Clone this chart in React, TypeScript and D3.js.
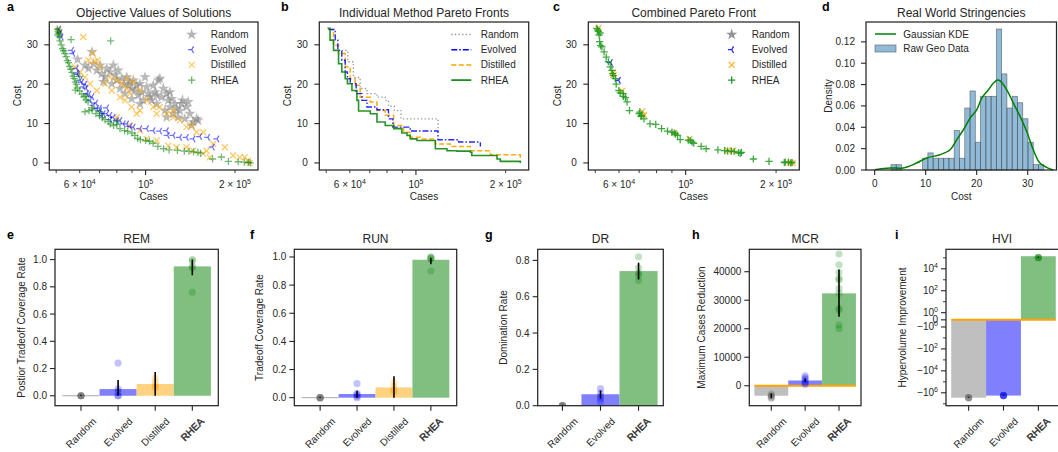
import React from 'react';
import * as d3 from 'd3';

const FONT = "'Liberation Sans', Arial, Helvetica, sans-serif";
const INK = '#262626';

type Pt = [number, number];
type Box = { l: number; r: number; t: number; b: number };

// ---------------- Panel a: all solutions [cases, cost] ----------------
const randomSolutions: Pt[] = [
  [59000, 26.3], [66000, 28.2], [62500, 24.8], [64200, 24.0], [66700, 25.2], [68500, 23.5], [70300, 24.8],
  [71200, 22.7], [73100, 21.8], [74000, 24.0], [75900, 23.1], [77900, 24.8], [78900, 22.3], [79900, 21.0],
  [80900, 23.5], [83100, 21.4], [84600, 20.1], [86400, 21.8], [87500, 19.7], [88600, 20.6], [89700, 18.9],
  [90900, 21.0], [92100, 18.4], [93300, 19.7], [94500, 17.2], [95700, 20.1], [97000, 18.0], [98200, 15.9],
  [100800, 19.3], [102100, 17.6], [104800, 15.9], [106100, 19.7], [107500, 18.0], [108900, 15.0], [110300, 21.0],
  [111700, 21.4], [113200, 16.7], [114700, 18.9], [116200, 13.3], [117700, 17.6], [119200, 15.9], [120700, 14.2],
  [122300, 16.3], [123900, 12.5], [125500, 15.0], [127100, 13.8], [128800, 11.6], [130400, 13.3], [133100, 15.9],
  [135500, 11.2], [137300, 14.2], [139100, 15.5], [140900, 12.5], [142700, 9.5], [144600, 10.4], [148400, 11.2],
  [150300, 10.8], [72100, 20.6], [76900, 20.1], [82000, 18.9], [85200, 17.6], [89700, 16.3], [95700, 15.0],
  [99500, 21.8], [103400, 16.7], [108900, 17.2], [120700, 18.0], [132100, 15.0], [117700, 11.6],
];
const evolvedSolutions: Pt[] = [
  [51000, 34], [51500, 33], [52000, 32], [56400, 28.6], [57000, 27.8], [58500, 24], [60200, 21], [59000, 22.5],
  [61700, 19.3], [63400, 17.6], [65000, 15.9], [66700, 14.6], [68500, 13.8], [70300, 13.3], [72100, 12.5],
  [74000, 12.5], [75900, 12.1], [77900, 11.6], [79900, 10.8], [82000, 10.8], [84200, 9.9], [86400, 9.9],
  [88600, 9.3], [90900, 9.1], [95700, 8.7], [100800, 8.7], [106100, 8.2], [111700, 8.1], [117700, 8.2],
  [118500, 7], [123900, 7], [130400, 6.5], [137300, 6.5], [144600, 6.1], [152300, 6.7], [162000, 6.5],
  [174000, 6.1], [168000, 4], [58700, 22.8], [61000, 20.5], [62500, 20], [64500, 17.5], [66000, 16.8],
  [68000, 15.2], [70000, 13.9], [71000, 12], [74000, 14], [76000, 11], [63000, 19],
];
const distilledSolutions: Pt[] = [
  [50900, 33.9], [51300, 33.3], [61700, 32.0], [66400, 27.8], [64200, 26.1], [67200, 25.7], [68900, 26.1],
  [60200, 23.1], [57900, 24.4], [70300, 24.4], [75900, 21.8], [79900, 21.0], [83100, 20.1], [86400, 18.9],
  [88600, 17.6], [90900, 20.6], [95700, 18.4], [100800, 15.9], [106100, 14.2], [111700, 14.2], [117700, 12.5],
  [123900, 13.3], [130400, 10.8], [137300, 9.1], [142700, 9.5], [148400, 7.8], [156300, 7.8], [160400, 3.1],
  [168800, 4.8], [184900, 4.0], [197000, 1.9], [207400, 1.4], [215500, 1.4], [220900, 0.6], [224000, 0],
  [95700, 8.2], [100800, 6.1], [108900, 5.7], [119200, 4.4], [127100, 4.0], [137300, 4.0], [144600, 3.1],
  [156300, 2.3], [164500, 1.4], [73100, 20.1], [76900, 18.4], [82000, 16.7], [85200, 15.9], [89700, 14.2],
  [93300, 12.5], [79900, 11.6], [88600, 9.5], [95700, 13.3], [123900, 11.6], [108900, 12.5], [86400, 21.4],
  [62500, 21.8], [65000, 20.1], [68500, 18.4],
];
const rheaSolutions: Pt[] = [
  [50500, 34], [50800, 33.5], [51000, 33], [50600, 32.5], [51200, 32], [51500, 31], [56100, 31.3], [76300, 31],
  [52000, 30], [52600, 29], [53000, 28.5], [53500, 27.8], [54000, 27], [54500, 26], [55000, 25.5], [55500, 24.5],
  [56000, 23.8], [56500, 23], [57000, 22], [57500, 21.5], [58000, 20.5], [58500, 20], [59000, 19], [60000, 18.3],
  [61000, 17.5], [62000, 16.8], [63000, 16], [64000, 15.5], [64500, 13.3], [62500, 13], [66000, 13.5],
  [68000, 12.5], [70000, 12], [71500, 11.5], [73000, 11], [75000, 10.5], [76000, 9.9], [78000, 9.5],
  [80000, 9.8], [82000, 8.7], [85000, 8.2], [87000, 8], [90000, 7.6], [92000, 7], [94000, 6.2], [96000, 5.9],
  [100000, 5.7], [103000, 5.5], [106000, 5], [110000, 4.2], [115000, 3.6], [120000, 3.3], [128000, 3.2],
  [135000, 3], [140000, 3], [145000, 2.8], [150000, 2.7], [153000, 2.5], [168000, 1], [180000, 1.5],
  [190000, 0.4], [205000, 0.3], [215000, 0.2], [222000, 0.1], [225000, 0], [60000, 22], [58000, 18.5],
  [63000, 17], [66000, 14], [70000, 13], [80000, 10.5],
];

// ---------------- Panel b: per-method Pareto fronts ----------------
const randomFront: Pt[] = [
  [56400, 28.6], [59100, 25.7], [61700, 21.7], [65000, 18.9], [68500, 17.6], [74000, 16.7], [78900, 15.9],
  [80900, 14.4], [84600, 13.3], [89100, 11.2], [118600, 8.2],
];
const evolvedFront: Pt[] = [
  [50900, 33.9], [53600, 31.2], [54700, 28.6], [56400, 26.1], [57900, 23.1], [58900, 21.4], [60200, 20.1],
  [63000, 17.6], [65900, 15.9], [68500, 14.2], [74000, 13.5], [80900, 11.2], [83700, 9.1], [95700, 8.1],
  [118600, 5.9], [139100, 5.3], [164500, 4.2],
];
const distilledFront: Pt[] = [
  [50900, 33.9], [52900, 29.9], [55000, 27.8], [57900, 24.4], [60200, 21.4], [62500, 19.7], [65000, 16.7],
  [70300, 15.5], [74000, 13.3], [78900, 12.1], [84200, 9.5], [90900, 7.8], [95700, 6.5], [103400, 6.1],
  [116200, 4.8], [130400, 4.2], [152300, 3.1], [177700, 2.1], [224000, 0.8],
];
const rheaFront: Pt[] = [
  [50500, 34.2], [51500, 31.2], [52900, 28.6], [55000, 25.2], [56400, 23.1], [57900, 21.4], [58900, 20.1],
  [61000, 18.4], [63400, 15.9], [64200, 13.2], [70300, 12.5], [74000, 10.4], [78900, 9.5], [84200, 8.7],
  [89700, 7.6], [93300, 7.0], [95700, 6.1], [100800, 5.7], [116200, 3.6], [127100, 3.1], [137300, 3.0],
  [152300, 2.7], [154000, 1.9], [187100, 1.0], [192000, 0.4], [224000, 0],
];

// ---------------- Panel c: combined Pareto front ----------------
const combinedRhea: Pt[] = [
  [50600, 34.2], [50900, 33.8], [51200, 33.4], [51900, 33.0], [51500, 32.5], [51700, 30.8], [52600, 29.5],
  [53500, 28.2], [54400, 26.9], [55300, 25.7], [56100, 24.4], [57100, 22.7], [58300, 21.4], [58700, 20.0],
  [59900, 18.4], [61900, 17.6], [63000, 16.6], [63800, 15.5], [65000, 13.3], [70400, 12.9], [71300, 12.1],
  [72600, 11.2], [76100, 9.9], [79500, 9.8], [83100, 8.7], [87000, 8.1], [91600, 7.6], [94000, 7.0],
  [95900, 5.9], [103600, 5.7], [106400, 5.0], [112600, 4.2], [117000, 3.6], [128000, 3.3], [134800, 3.1],
  [142000, 3.0], [153400, 2.7], [168000, 1.0], [189500, 0.4], [214600, 0.2], [226000, 0.1], [70000, 12.5],
  [71000, 11.8], [90000, 7.8], [92500, 7.3], [102000, 5.8], [105000, 5.3], [138000, 3.0], [145000, 2.9],
  [150000, 2.6], [152000, 2.4], [213000, 0.1], [220000, 0.2], [224000, 0], [60500, 17.8], [62000, 16.9],
  [57500, 22.2], [56800, 23.5], [52100, 29.8],
];
const combinedDistilled: Pt[] = [
  [51200, 34.2], [57300, 22.9], [57500, 22.3], [61400, 18.3], [71700, 13.1], [72600, 12.1], [91600, 7.6],
  [103000, 6.1], [138400, 3.1], [144000, 3.1], [223000, 0], [227000, 0],
];
const combinedEvolved: Pt[] = [[56200, 25.5], [59800, 21.0]];

// ---------------- Panel d: real-world stringencies ----------------
const histStart = 3.2;
const histBinWidth = 1.033;
const histDensity = [
  0.005, 0.005, 0, 0, 0, 0, 0.011, 0.016, 0.011, 0.011, 0.011, 0.011, 0.037, 0.011, 0.058, 0.074, 0.026,
  0.069, 0.069, 0.069, 0.132, 0.090, 0.058, 0.069, 0.063, 0.048, 0.026, 0.005, 0.005, 0,
];
const kdeCost = [0, 3.0, 5.6, 8.2, 10.2, 12.8, 14.8, 16.1, 17.4, 18.7, 20.0, 21.0, 22.3, 23.3, 24.1, 24.7, 25.9, 27.2, 28.5, 29.8, 31.1, 32.4, 34.4, 35.0];
const kdeDensity = [0.0003, 0.0019, 0.0019, 0.0065, 0.0112, 0.0143, 0.019, 0.0284, 0.0377, 0.0486, 0.0564, 0.0673, 0.0751, 0.0814, 0.0842, 0.083, 0.0751, 0.0626, 0.0502, 0.0362, 0.019, 0.0065, 0.0009, 0.0];

// ---------------- Bottom row metrics ----------------
const methods4 = ['Random', 'Evolved', 'Distilled', 'RHEA'];
const methods3 = ['Random', 'Evolved', 'RHEA'];

const remMean = [0, 0.049, 0.086, 0.95];
const remLow = [0, 0, 0, 0.885];
const remHigh = [0, 0.115, 0.174, 1.0];
const remRuns = [[0, 0, 0, 0, 0], [0.24, 0.05, 0.03, 0.0, 0.0], [0.06, 0.08, 0.1, 0.13, 0.06], [1.0, 0.99, 0.95, 0.94, 0.76]];

const runMean = [0, 0.026, 0.073, 0.98];
const runLow = [0, 0, 0, 0.948];
const runHigh = [0, 0.05, 0.152, 0.995];
const runRuns = [[0, 0, 0, 0, 0], [0.1, 0.03, 0.02, 0.01, 0.0], [0.107, 0.08, 0.06, 0.05, 0.043], [1.0, 0.995, 0.99, 0.985, 0.9]];

const drMean = [0, 0.063, 0.741];
const drLow = [0, 0.039, 0.695];
const drHigh = [0, 0.084, 0.787];
const drRuns = [[0, 0, 0, 0, 0], [0.094, 0.07, 0.05, 0.04, 0.02], [0.82, 0.759, 0.73, 0.72, 0.69]];

const mcrMean = [-3500, 1850, 32400];
const mcrLow = [-4400, 1300, 24200];
const mcrHigh = [-2700, 2500, 40800];
const mcrRuns = [
  [-2900, -3300, -3700, -4100, -4400],
  [3500, 2800, 2200, 1500, 1000, 500],
  [46200, 42400, 39700, 37700, 37100, 34200, 32400, 27100, 26600, 21300, 20100],
];

const hviMean = [-2.8e6, -1.8e6, 1.4e5];
const hviLow = [-2.9e6, -1.85e6, 1.0e5];
const hviHigh = [-2.7e6, -1.75e6, 1.1e5];
const hviRuns = [[-2.8e6, -2.9e6, -2.7e6, -2.8e6], [-1.8e6, -1.85e6, -1.75e6, -1.8e6, -1.8e6], [1.05e5, 1.0e5, 1.1e5, 1.05e5]];

const distilledBaseline = 0;

// ---------------- axis settings ----------------
const caseDomain: [number, number] = [47400, 239000];
const costDomain: [number, number] = [-1.8, 35.8];
const caseMinorTicks = [50000, 60000, 70000, 80000, 90000, 200000];
const caseMajorTicks = [100000];
const caseTickLabels = [
  { v: 60000, m: '6 × 10', e: '4' },
  { v: 100000, m: '10', e: '5' },
  { v: 200000, m: '2 × 10', e: '5' },
];
const costTicks = [0, 10, 20, 30];
const densityTicks = [0, 0.02, 0.04, 0.06, 0.08, 0.1, 0.12];
const histCostTicks = [0, 10, 20, 30];

const SYM_A = 0.65;
const symT = (v: number) => {
  const a = Math.abs(v);
  const t = a < 1 ? a * SYM_A : SYM_A + Math.log10(a);
  return Math.sign(v) * t;
};
const hviTicks = [
  { v: 1e4, neg: false, e: '4' },
  { v: 1e2, neg: false, e: '2' },
  { v: 1, neg: false, e: '0' },
  { v: 0, neg: false, e: '' },
  { v: -1, neg: true, e: '0' },
  { v: -1e2, neg: true, e: '2' },
  { v: -1e4, neg: true, e: '4' },
  { v: -1e6, neg: true, e: '6' },
];
const hviMinor = [1e5, 1e3, 1e1, -1e1, -1e3, -1e5, -1e7];

const barColor: Record<string, string> = { Random: '#bfbfbf', Evolved: '#8080ff', Distilled: '#ffd280', RHEA: '#80bf80' };
const dotColor: Record<string, string> = { Random: '#555555', Evolved: '#0000ff', Distilled: '#ffa500', RHEA: '#008000' };

let _ctx: any = null;
function textWidth(s: string, size = 10) {
  let w = s.length * size * 0.58;
  try {
    if (!_ctx) _ctx = document.createElement('canvas').getContext('2d');
    if (_ctx) {
      _ctx.font = `${size}px "Liberation Sans", Arial`;
      const m = _ctx.measureText(s).width;
      if (isFinite(m) && m > 0) w = m;
    }
  } catch (e) {
    /* keep estimate */
  }
  return w;
}

const starPath = d3.symbol(d3.symbolStar, 40)() as string;

function marker(kind: string, x: number, y: number, color: string, op: number, key: any) {
  const tr = `translate(${x},${y})`;
  if (kind === 'star') return <path key={key} d={starPath} transform={tr} fill={color} fillOpacity={op} />;
  let d = '';
  if (kind === 'tri') d = 'M0,0H-3.8M0,0L1.9,-3.3M0,0L1.9,3.3';
  if (kind === 'x') d = 'M-3,-3L3,3M-3,3L3,-3';
  if (kind === 'plus') d = 'M-3.6,0H3.6M0,-3.6V3.6';
  return <path key={key} d={d} transform={tr} stroke={color} strokeOpacity={op} strokeWidth={1.3} fill="none" />;
}

function Frame({ box }: { box: Box }) {
  return <rect x={box.l} y={box.t} width={box.r - box.l} height={box.b - box.t} fill="none" stroke={INK} strokeWidth={1.25} />;
}

function Letter({ x, y, s }: { x: number; y: number; s: string }) {
  return <text x={x} y={y} fontSize={12.5} fontWeight="bold" fill="#000">{s}</text>;
}

function YLabel({ x, box, s }: { x: number; box: Box; s: string }) {
  const cy = (box.t + box.b) / 2;
  return (
    <text x={x} y={cy} transform={`rotate(-90 ${x} ${cy})`} textAnchor="middle" dominantBaseline="central" fontSize={10} fill={INK}>
      {s}
    </text>
  );
}

const boxA: Box = { l: 49.3, r: 258, t: 22, b: 170 };
const boxB: Box = { l: 319.3, r: 528.7, t: 22, b: 170 };
const boxC: Box = { l: 588.3, r: 799.3, t: 22, b: 170 };
const boxD: Box = { l: 866, r: 1056.5, t: 22, b: 170 };

function LogCostAxes({ box, ylabelX, title }: { box: Box; ylabelX: number; title: string }) {
  const x = d3.scaleLog().domain(caseDomain).range([box.l, box.r]);
  const y = d3.scaleLinear().domain(costDomain).range([box.b, box.t]);
  return (
    <g>
      {caseMinorTicks.map((v) => (
        <line key={'mi' + v} x1={x(v)} x2={x(v)} y1={box.b} y2={box.b + 3} stroke={INK} strokeWidth={0.9} />
      ))}
      {caseMajorTicks.map((v) => (
        <line key={'ma' + v} x1={x(v)} x2={x(v)} y1={box.b} y2={box.b + 5} stroke={INK} strokeWidth={1.1} />
      ))}
      {caseTickLabels.map((t) => (
        <text key={'tl' + t.v} x={x(t.v)} y={box.b + 18} textAnchor="middle" fontSize={10} fill={INK}>
          {t.m}
          <tspan dy={-4.5} fontSize={7}>{t.e}</tspan>
        </text>
      ))}
      {costTicks.map((v) => (
        <g key={'ct' + v}>
          <line x1={box.l - 5} x2={box.l} y1={y(v)} y2={y(v)} stroke={INK} strokeWidth={1.1} />
          <text x={box.l - 11.5} y={y(v)} dy="0.35em" textAnchor="end" fontSize={10} fill={INK}>{v}</text>
        </g>
      ))}
      <text x={(box.l + box.r) / 2} y={200} textAnchor="middle" fontSize={10} fill={INK}>Cases</text>
      <YLabel x={ylabelX} box={box} s="Cost" />
      <text x={(box.l + box.r) / 2} y={16.5} textAnchor="middle" fontSize={12} fill={INK}>{title}</text>
      <Frame box={box} />
    </g>
  );
}

const legendNames = ['Random', 'Evolved', 'Distilled', 'RHEA'];
const legendRowY = (i: number) => 34.5 + i * 15.2;

function PanelA() {
  const box = boxA;
  const x = d3.scaleLog().domain(caseDomain).range([box.l, box.r]);
  const y = d3.scaleLinear().domain(costDomain).range([box.b, box.t]);
  const series: [Pt[], string, string, number][] = [
    [randomSolutions, 'star', '#808080', 0.55],
    [distilledSolutions, 'x', '#ffa500', 0.6],
    [evolvedSolutions, 'tri', '#0000ff', 0.55],
    [rheaSolutions, 'plus', '#008000', 0.55],
  ];
  const leg: [string, string][] = [['star', '#808080'], ['tri', '#0000ff'], ['x', '#ffa500'], ['plus', '#008000']];
  return (
    <g>
      {series.map(([pts, k, c, o], si) => (
        <g key={si}>{pts.map((p, i) => marker(k, x(p[0]), y(p[1]), c, o, i))}</g>
      ))}
      {leg.map(([k, c], i) => (
        <g key={'l' + i}>
          {marker(k, box.l + 142.4, legendRowY(i), c, 0.6, 'm')}
          <text x={box.l + 161.4} y={legendRowY(i)} dy="0.35em" fontSize={10} fill={INK}>{legendNames[i]}</text>
        </g>
      ))}
      <LogCostAxes box={box} ylabelX={17.5} title="Objective Values of Solutions" />
      <Letter x={7} y={11} s="a" />
    </g>
  );
}

function PanelB() {
  const box = boxB;
  const x = d3.scaleLog().domain(caseDomain).range([box.l, box.r]);
  const y = d3.scaleLinear().domain(costDomain).range([box.b, box.t]);
  const line = d3.line<Pt>().x((d) => x(d[0])).y((d) => y(d[1])).curve(d3.curveStepAfter);
  const fronts: [Pt[], string, string, number, number][] = [
    [randomFront, '#999999', '1.4,2.2', 1.3, 1],
    [distilledFront, '#ffa500', '5,2.5', 1.5, 0.95],
    [evolvedFront, '#0000ff', '6,2,1.5,2', 1.4, 0.85],
    [rheaFront, '#008000', '', 1.6, 0.85],
  ];
  const legOrder = [0, 2, 1, 3];
  return (
    <g>
      {fronts.map(([pts, c, dash, w, o], i) => (
        <path key={i} d={line(pts) as string} fill="none" stroke={c} strokeWidth={w} strokeDasharray={dash || undefined} strokeOpacity={o} />
      ))}
      {legOrder.map((fi, i) => {
        const [, c, dash, w] = fronts[fi];
        return (
          <g key={'l' + i}>
            <line x1={box.l + 132} x2={box.l + 152} y1={legendRowY(i)} y2={legendRowY(i)} stroke={c} strokeWidth={w} strokeDasharray={dash || undefined} />
            <text x={box.l + 161.4} y={legendRowY(i)} dy="0.35em" fontSize={10} fill={INK}>{legendNames[i]}</text>
          </g>
        );
      })}
      <LogCostAxes box={box} ylabelX={287.5} title="Individual Method Pareto Fronts" />
      <Letter x={281} y={11} s="b" />
    </g>
  );
}

function PanelC() {
  const box = boxC;
  const x = d3.scaleLog().domain(caseDomain).range([box.l, box.r]);
  const y = d3.scaleLinear().domain(costDomain).range([box.b, box.t]);
  const leg: [string, string][] = [['star', '#808080'], ['tri', '#0000ff'], ['x', '#ffa500'], ['plus', '#008000']];
  return (
    <g>
      {combinedDistilled.map((p, i) => marker('x', x(p[0]), y(p[1]), '#ffa500', 0.8, 'd' + i))}
      {combinedEvolved.map((p, i) => marker('tri', x(p[0]), y(p[1]), '#0000ff', 0.8, 'e' + i))}
      {combinedRhea.map((p, i) => marker('plus', x(p[0]), y(p[1]), '#1f9a1f', 0.85, 'r' + i))}
      {leg.map(([k, c], i) => (
        <g key={'l' + i}>
          {marker(k, box.l + 143.4, legendRowY(i), c, 0.85, 'm')}
          <text x={box.l + 163.4} y={legendRowY(i)} dy="0.35em" fontSize={10} fill={INK}>{legendNames[i]}</text>
        </g>
      ))}
      <LogCostAxes box={box} ylabelX={557.5} title="Combined Pareto Front" />
      <Letter x={553} y={11} s="c" />
    </g>
  );
}

function PanelD() {
  const box = boxD;
  const x = d3.scaleLinear().domain([-1.7, 35.65]).range([box.l, box.r]);
  const y = d3.scaleLinear().domain([0, 0.1386]).range([box.b, box.t]);
  const kde = d3
    .line<number>()
    .x((_, i) => x(kdeCost[i]))
    .y((d) => y(d))
    .curve(d3.curveCatmullRom);
  return (
    <g>
      {histDensity.map((h, i) =>
        h > 0 ? (
          <rect
            key={i}
            x={x(histStart + i * histBinWidth)}
            y={y(h)}
            width={x(histStart + (i + 1) * histBinWidth) - x(histStart + i * histBinWidth)}
            height={y(0) - y(h)}
            fill="#1f77b4"
            fillOpacity={0.5}
            stroke="#555"
            strokeOpacity={0.7}
            strokeWidth={0.8}
          />
        ) : null
      )}
      <path d={kde(kdeDensity) as string} fill="none" stroke="#008000" strokeWidth={1.5} />
      {densityTicks.map((v) => (
        <g key={'y' + v}>
          <line x1={box.l - 5} x2={box.l} y1={y(v)} y2={y(v)} stroke={INK} strokeWidth={1.1} />
          <text x={box.l - 11} y={y(v)} dy="0.35em" textAnchor="end" fontSize={10} fill={INK}>{v.toFixed(2)}</text>
        </g>
      ))}
      {histCostTicks.map((v) => (
        <g key={'x' + v}>
          <line x1={x(v)} x2={x(v)} y1={box.b} y2={box.b + 5} stroke={INK} strokeWidth={1.1} />
          <text x={x(v)} y={box.b + 17} textAnchor="middle" fontSize={10} fill={INK}>{v}</text>
        </g>
      ))}
      <line x1={box.l + 9} x2={box.l + 30} y1={34} y2={34} stroke="#008000" strokeWidth={1.5} />
      <text x={box.l + 37.3} y={34} dy="0.35em" fontSize={10} fill={INK}>Gaussian KDE</text>
      <rect x={box.l + 9} y={45} width={21} height={7} fill="#1f77b4" fillOpacity={0.5} stroke="#555" strokeOpacity={0.7} strokeWidth={0.8} />
      <text x={box.l + 37.3} y={48.7} dy="0.35em" fontSize={10} fill={INK}>Raw Geo Data</text>
      <text x={(box.l + box.r) / 2} y={200} textAnchor="middle" fontSize={10} fill={INK}>Cost</text>
      <YLabel x={828} box={box} s="Density" />
      <text x={(box.l + box.r) / 2} y={16.5} textAnchor="middle" fontSize={12} fill={INK}>Real World Stringencies</text>
      <Frame box={box} />
      <Letter x={822} y={11} s="d" />
    </g>
  );
}

type TickSpec = { v: number; label: React.ReactNode };

function BarPanel(props: {
  box: Box;
  letter: string;
  letterX: number;
  title: string;
  ylabel: string;
  ylabelX: number;
  cats: string[];
  means: number[];
  lo: number[];
  hi: number[];
  runs: number[][];
  yDomain: [number, number];
  yTicks: TickSpec[];
  yMinor?: number[];
  tf?: (v: number) => number;
  xDomain: [number, number];
  baseline?: boolean;
}) {
  const { box, cats, means, lo, hi, runs } = props;
  const tf = props.tf || ((v: number) => v);
  const x = d3.scaleLinear().domain(props.xDomain).range([box.l, box.r]);
  const ys = d3.scaleLinear().domain(props.yDomain).range([box.b, box.t]);
  const y = (v: number) => ys(tf(v));
  const c45 = Math.SQRT1_2;
  return (
    <g>
      <defs>
        <clipPath id={'clip' + props.letter}>
          <rect x={box.l} y={box.t} width={box.r - box.l} height={box.b - box.t} />
        </clipPath>
      </defs>
      <g clipPath={`url(#clip${props.letter})`}>
        {cats.map((c, i) => {
          const x0 = x(i - 0.5);
          const x1 = x(i + 0.5);
          if (means[i] === 0) {
            return <line key={'b' + i} x1={x0} x2={x1} y1={y(0)} y2={y(0)} stroke="#a8a8a8" strokeWidth={1} />;
          }
          const ya = y(0);
          const yb = y(means[i]);
          return <rect key={'b' + i} x={x0} y={Math.min(ya, yb)} width={x1 - x0} height={Math.abs(ya - yb)} fill={barColor[c]} />;
        })}
        {props.baseline ? (
          <line x1={x(-0.5)} x2={x(cats.length - 0.5)} y1={y(distilledBaseline)} y2={y(distilledBaseline)} stroke="#ffa500" strokeWidth={2} />
        ) : null}
        {cats.map((c, i) =>
          runs[i].map((v, j) => <circle key={'d' + i + '-' + j} cx={x(i)} cy={y(v)} r={3.6} fill={dotColor[c]} fillOpacity={0.24} />)
        )}
        {cats.map((c, i) => (
          <line key={'e' + i} x1={x(i)} x2={x(i)} y1={y(lo[i])} y2={Math.min(y(hi[i]), y(lo[i]) - 1)} stroke="#000" strokeWidth={1.6} />
        ))}
      </g>
      {props.yTicks.map((t, i) => (
        <g key={'yt' + i}>
          <line x1={box.l - 5} x2={box.l} y1={y(t.v)} y2={y(t.v)} stroke={INK} strokeWidth={1.1} />
          <text x={box.l - 8} y={y(t.v)} dy="0.35em" textAnchor="end" fontSize={10} fill={INK}>{t.label}</text>
        </g>
      ))}
      {(props.yMinor || []).map((v, i) => (
        <line key={'ym' + i} x1={box.l - 3} x2={box.l} y1={y(v)} y2={y(v)} stroke={INK} strokeWidth={0.9} />
      ))}
      {cats.map((c, i) => {
        const w = textWidth(c, 10);
        const h = (w + 8) * c45;
        const cx = x(i);
        const cy = box.b + 11 + h / 2;
        return (
          <g key={'xt' + i}>
            <line x1={cx} x2={cx} y1={box.b} y2={box.b + 5} stroke={INK} strokeWidth={1.1} />
            <g transform={`matrix(${c45},${-c45},${c45},${c45},${cx},${cy})`}>
              <text
                x={0}
                y={3.5}
                textAnchor="middle"
                fontSize={10}
                fill={INK}
                stroke={c === 'RHEA' ? INK : 'none'}
                strokeWidth={c === 'RHEA' ? 0.35 : 0}
              >
                {c}
              </text>
            </g>
          </g>
        );
      })}
      <text x={(box.l + Math.min(box.r, 1058)) / 2} y={242.7} textAnchor="middle" fontSize={12} fill={INK}>
        {props.title}
      </text>
      <YLabel x={props.ylabelX} box={box} s={props.ylabel} />
      <Frame box={box} />
      <Letter x={props.letterX} y={239} s={props.letter} />
    </g>
  );
}

const unitTicks = (vals: number[]) => vals.map((v) => ({ v, label: v.toFixed(1) }));

export default function App() {
  const boxE: Box = { l: 55, r: 218.3, t: 249.3, b: 405.7 };
  const boxF: Box = { l: 294.3, r: 456.7, t: 249.3, b: 405.7 };
  const boxG: Box = { l: 537.7, r: 663.3, t: 249.3, b: 405.7 };
  const boxH: Box = { l: 749.3, r: 861, t: 249.3, b: 405.7 };
  const boxI: Box = { l: 946, r: 1061, t: 249.3, b: 405.7 };
  const hviTickSpecs: TickSpec[] = hviTicks.map((t) => ({
    v: t.v,
    label:
      t.v === 0 ? (
        '0'
      ) : (
        <>
          {t.neg ? '−10' : '10'}
          <tspan dy={-4.5} fontSize={7}>{t.e}</tspan>
        </>
      ),
  }));
  return (
    <svg
      width={1058}
      height={452}
      viewBox="0 0 1058 452"
      style={{ position: 'absolute', left: 0, top: 0, background: '#fff' }}
      fontFamily={FONT}
    >
      <rect x={0} y={0} width={1058} height={452} fill="#fff" />
      <PanelA />
      <PanelB />
      <PanelC />
      <PanelD />
      <BarPanel
        box={boxE}
        letter="e"
        letterX={7}
        title="REM"
        ylabel="Postior Tradeoff Coverage Rate"
        ylabelX={21}
        cats={methods4}
        means={remMean}
        lo={remLow}
        hi={remHigh}
        runs={remRuns}
        yDomain={[-0.073, 1.0755]}
        yTicks={unitTicks([0, 0.2, 0.4, 0.6, 0.8, 1.0])}
        xDomain={[-0.7, 3.7]}
      />
      <BarPanel
        box={boxF}
        letter="f"
        letterX={250}
        title="RUN"
        ylabel="Tradeoff Coverage Rate"
        ylabelX={259.5}
        cats={methods4}
        means={runMean}
        lo={runLow}
        hi={runHigh}
        runs={runRuns}
        yDomain={[-0.057, 1.0545]}
        yTicks={unitTicks([0, 0.2, 0.4, 0.6, 0.8, 1.0])}
        xDomain={[-0.7, 3.7]}
      />
      <BarPanel
        box={boxG}
        letter="g"
        letterX={485}
        title="DR"
        ylabel="Domination Rate"
        ylabelX={503.8}
        cats={methods3}
        means={drMean}
        lo={drLow}
        hi={drHigh}
        runs={drRuns}
        yDomain={[0, 0.861]}
        yTicks={unitTicks([0, 0.2, 0.4, 0.6, 0.8])}
        xDomain={[-0.65, 2.65]}
      />
      <BarPanel
        box={boxH}
        letter="h"
        letterX={692}
        title="MCR"
        ylabel="Maximum Cases Reduction"
        ylabelX={701.7}
        cats={methods3}
        means={mcrMean}
        lo={mcrLow}
        hi={mcrHigh}
        runs={mcrRuns}
        yDomain={[-7000, 47860]}
        yTicks={[0, 10000, 20000, 30000, 40000].map((v) => ({ v, label: String(v) }))}
        xDomain={[-0.65, 2.65]}
        baseline
      />
      <BarPanel
        box={boxI}
        letter="i"
        letterX={895}
        title="HVI"
        ylabel="Hypervolume Improvement"
        ylabelX={902.5}
        cats={methods3}
        means={hviMean}
        lo={hviLow}
        hi={hviHigh}
        runs={hviRuns}
        yDomain={[symT(-1.5e7), symT(6.0e5)]}
        yTicks={hviTickSpecs}
        yMinor={hviMinor}
        tf={symT}
        xDomain={[-0.65, 2.65]}
        baseline
      />
    </svg>
  );
}
